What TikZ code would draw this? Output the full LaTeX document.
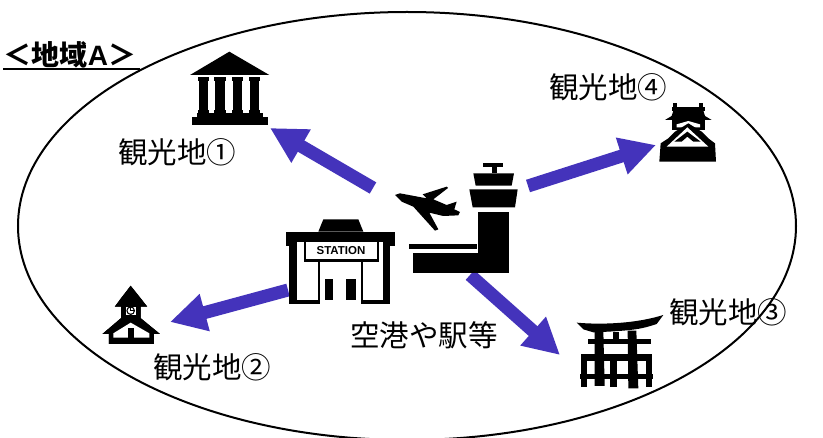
\documentclass[tikz,border=0pt]{standalone}
\usepackage{fontspec}
\usetikzlibrary{arrows.meta}
\newfontfamily\cjk{Noto Sans CJK JP}
\setsansfont{Liberation Sans}
\definecolor{arrowblue}{HTML}{4433BB}
\tikzset{
  flow/.style={draw=arrowblue,line width=13pt,-{Triangle[width=36pt,length=36pt,fill=arrowblue]}},
  label/.style={font=\cjk\fontsize{29.5}{31}\selectfont,inner sep=0pt,anchor=center,text=black},
  ink/.style={fill=black,draw=none},
  heavy/.style={fill=black,draw=black,line width=1.1pt},
  paper/.style={fill=white,draw=none},
  crop/.style={scale=0.33333}
}
\begin{document}
\begin{tikzpicture}[x=1pt,y=-1pt]
\useasboundingbox (0,0) rectangle (823,438);
\fill[white] (0,0) rectangle (823,438);
\begin{scope}
\clip (0,0) rectangle (823,438);
\draw[line width=2pt] (407,226) ellipse [x radius=389pt,y radius=214pt];
\end{scope}
% anchors of the connectors
\coordinate (a1s) at (373,188); \coordinate (a1e) at (270,128);
\coordinate (a2s) at (288,290); \coordinate (a2e) at (170,322);
\coordinate (a3s) at (470,275); \coordinate (a3e) at (560,355);
\coordinate (a4s) at (528,186); \coordinate (a4e) at (656,145);
\draw[flow] (a1s) -- (a1e);
\draw[flow] (a2s) -- (a2e);
\draw[flow] (a3s) -- (a3e);
\draw[flow] (a4s) -- (a4e);
% museum
\begin{scope}[shift={(170,30)},crop]
\fill[ink] (178,65) -- (298,135) -- (60,135) -- cycle;
\foreach \c in {100,150,202,254}{
  \fill[ink] (\c-17,142) rectangle (\c+17,152);
  \fill[ink] (\c-14,152) rectangle (\c+14,240);
  \fill[ink] (\c-17,240) rectangle (\c+17,250);
}
\fill[ink] (80,250) rectangle (278,262);
\fill[ink] (65,262) rectangle (293,285);
\end{scope}
% castle
\begin{scope}[shift={(640,90)},crop]
\fill[ink] (100,38) rectangle (110,52); \fill[ink] (178,38) rectangle (188,52);
\fill[ink] (95,50) rectangle (195,62);
\fill[ink] (100,62) -- (190,62) -- (195,78) -- (215,90) -- (75,90) -- (95,78) -- cycle;
\fill[ink] (95,90) rectangle (195,120);
\fill[paper] (110,103) -- (145,93) -- (180,103) -- (180,112) -- (110,112) -- cycle;
\fill[ink] (145,100) -- (105,125) -- (85,145) -- (62,160) -- (58,215) -- (228,215) -- (225,160) -- (205,145) -- (185,125) -- cycle;
\fill[paper] (80,170) -- (142,112) -- (205,170) -- cycle;
\fill[ink] (103,155) -- (142,125) -- (182,155) -- (160,155) -- (142,140) -- (125,155) -- cycle;
\end{scope}
% tower and plane
\begin{scope}[shift={(270,150)},crop]
\fill[ink] (640,40) rectangle (700,50);
\fill[ink] (665,50) rectangle (680,70);
\fill[ink] (610,70) -- (732,70) -- (725,107) -- (617,107) -- cycle;
\fill[ink] (598,118) -- (743,118) -- (735,172) -- (608,172) -- cycle;
\fill[ink] (625,185) rectangle (718,368);
\fill[ink] (430,308) rectangle (718,368);
\fill[ink] (418,282) rectangle (622,298);
% plane
\fill[ink] (375,135) -- (390,130) -- (470,145) -- (458,133) -- (530,110) -- (534,114) -- (490,148) -- (530,165) -- (560,155) -- (553,178) -- (570,186) -- (565,196) -- (520,198) -- (478,188) -- (505,238) -- (495,242) -- (430,170) -- (395,155) -- cycle;
\end{scope}
% station
\begin{scope}[shift={(270,150)},crop]
\fill[ink] (160,208) -- (265,208) -- (280,245) -- (145,245) -- cycle;
\fill[ink] (47,245) rectangle (375,288);
\fill[ink] (58,288) rectangle (360,462);
\fill[paper] (82,275) rectangle (145,450);
\fill[paper] (150,335) rectangle (272,462);
\fill[paper] (280,275) rectangle (338,450);
\fill[ink] (102,270) rectangle (328,335);
\fill[paper] (108,276) rectangle (322,328);
\fill[ink] (165,388) rectangle (190,450);
\fill[ink] (228,388) rectangle (258,450);
\node (sign) at (213,301) [font=\sffamily\bfseries\fontsize{11.5}{12}\selectfont,inner sep=0pt] {STATION};
\end{scope}
% clock house
\begin{scope}[shift={(90,270)},crop]
\fill[heavy] (122,50) -- (150,85) -- (168,108) -- (150,108) -- (150,145) -- (205,190) -- (190,190) -- (190,220) -- (58,220) -- (58,190) -- (42,190) -- (95,145) -- (95,108) -- (78,108) -- (95,85) -- cycle;
\draw[heavy] (122,50) -- (150,85) -- (168,108) -- (150,108) -- (150,145) -- (205,190) -- (190,190) -- (190,220) -- (58,220) -- (58,190) -- (42,190) -- (95,145) -- (95,108) -- (78,108) -- (95,85) -- cycle;
\fill[paper] (108,110) rectangle (137,136);
\fill[ink] (122,122) circle (13);
\fill[paper] (122,122) circle (9);
\fill[ink] (120,112) rectangle (124,124); \fill[ink] (120,120) rectangle (132,124);
\fill[paper] (70,203) -- (70,190) -- (122,158) -- (178,190) -- (178,203) -- cycle;
\fill[ink] (113,175) rectangle (132,203);
\end{scope}
% torii
\begin{scope}[shift={(560,300)},crop]
\fill[ink] (50,68) .. controls (130,75) and (230,70) .. (310,45) -- (290,72) .. controls (250,85) and (230,92) .. (100,97) -- (70,88) -- cycle;
\fill[ink] (85,116) rectangle (272,132);
\fill[ink] (158,95) rectangle (177,120);
\fill[ink] (104,92) -- (130,92) -- (134,258) -- (104,258) -- cycle;
\fill[ink] (203,92) -- (229,92) -- (235,265) -- (205,265) -- cycle;
\fill[ink] (63,165) rectangle (81,262);
\fill[ink] (151,165) rectangle (170,262);
\fill[ink] (258,165) rectangle (277,262);
\fill[ink] (63,163) rectangle (275,182);
\fill[ink] (60,222) rectangle (280,238);
\end{scope}
% labels
\node[label] (l1) at (177,152) {観光地①};
\node[label] (l2) at (212,367) {観光地②};
\node[label] (l3) at (728,312) {観光地③};
\node[label] (l4) at (608,87) {観光地④};
\node[label] (hub) at (424,335) {空港や駅等};
\node[inner sep=0pt,font=\cjk\bfseries\fontsize{28}{30}\selectfont] (title) at (70,55) {＜地域{\sffamily\bfseries A}＞};
\draw[line width=2pt] (3,69.5) -- (140,69.5);
\end{tikzpicture}
\end{document}
